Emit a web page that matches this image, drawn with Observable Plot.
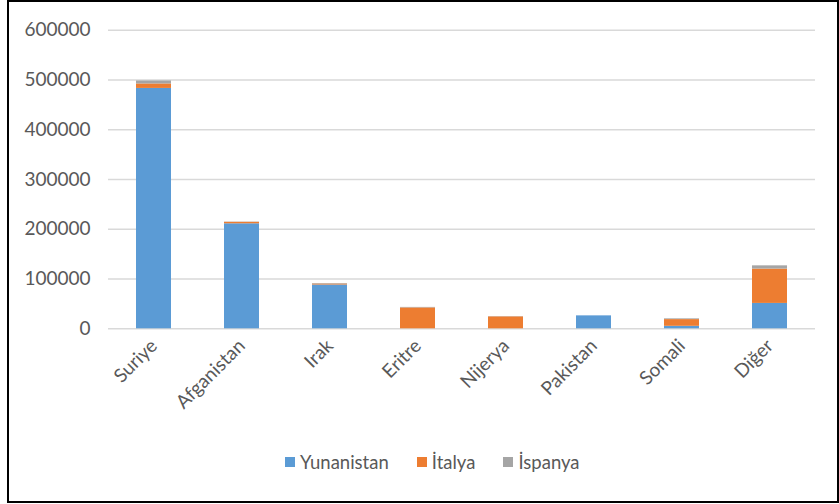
<!DOCTYPE html>
<html>
<head>
<meta charset="utf-8">
<script src="https://cdn.jsdelivr.net/npm/d3@7"></script>
<script src="https://cdn.jsdelivr.net/npm/@observablehq/plot@0.6"></script>
<style>
  html, body { margin: 0; padding: 0; background: #fff; }
  #wrap { position: relative; width: 839px; height: 504px; overflow: hidden; }
  #frame { position: absolute; left: 7px; top: 0px; width: 828px; height: 499px; border: 2px solid #000; pointer-events: none; }
  #legend { position: absolute; left: 285px; top: 451px; display: flex; align-items: center; font-family: Lato, sans-serif; font-size: 18.5px; color: #595959; }
  #legend .item { display: flex; align-items: center; margin-right: 28px; }
  #legend .sw { width: 10px; height: 10px; margin-right: 5px; }
</style>
</head>
<body>
<div id="wrap">
  <div id="chart"></div>
  <div id="legend"></div>
  <div id="frame"></div>
</div>
<script>
const categories = ["Suriye", "Afganistan", "Irak", "Eritre", "Nijerya", "Pakistan", "Somali", "Diğer"];
const seriesNames = ["Yunanistan", "İtalya", "İspanya"];
const seriesColors = ["#5B9BD5", "#ED7D31", "#A5A5A5"];
const yunanistan = [483000, 211000, 88000, 0, 0, 26000, 5000, 51000];
const italya = [9000, 3000, 2000, 42000, 24000, 0, 13500, 69000];
const ispanya = [6000, 500, 1000, 1000, 500, 0, 1500, 6500];
const yTicks = [0, 100000, 200000, 300000, 400000, 500000, 600000];

const seriesValues = [yunanistan, italya, ispanya];
const data = [];
seriesNames.forEach((s, i) => {
  categories.forEach((c, j) => data.push({cat: c, series: s, value: seriesValues[i][j]}));
});

const chart = Plot.plot({
  width: 839,
  height: 445,
  marginLeft: 108,
  marginRight: 24,
  marginTop: 29.7,
  marginBottom: 116.7,
  style: {fontFamily: "Lato, sans-serif", fontSize: "19px", color: "#595959", background: "transparent"},
  x: {domain: categories, paddingInner: 0.6, paddingOuter: 0.3, label: null},
  y: {domain: [0, 600000], label: null},
  color: {domain: seriesNames, range: seriesColors},
  marks: [
    Plot.gridY(yTicks, {stroke: "#d9d9d9", strokeOpacity: 1, strokeWidth: 1.5}),
    Plot.barY(data, {x: "cat", y: "value", fill: "series"}),
    Plot.axisY(yTicks, {tickSize: 0, tickPadding: 18, tickFormat: d => String(d), fill: "#595959", fontSize: 19, label: null}),
    Plot.axisX({tickSize: 0, tickPadding: 14, tickRotate: -45, fill: "#595959", fontSize: 19, label: null})
  ]
});
document.getElementById("chart").appendChild(chart);

const legend = document.getElementById("legend");
seriesNames.forEach((s, i) => {
  const item = document.createElement("div");
  item.className = "item";
  const sw = document.createElement("span");
  sw.className = "sw";
  sw.style.background = seriesColors[i];
  const t = document.createElement("span");
  t.textContent = s;
  item.appendChild(sw);
  item.appendChild(t);
  legend.appendChild(item);
});
</script>
</body>
</html>
